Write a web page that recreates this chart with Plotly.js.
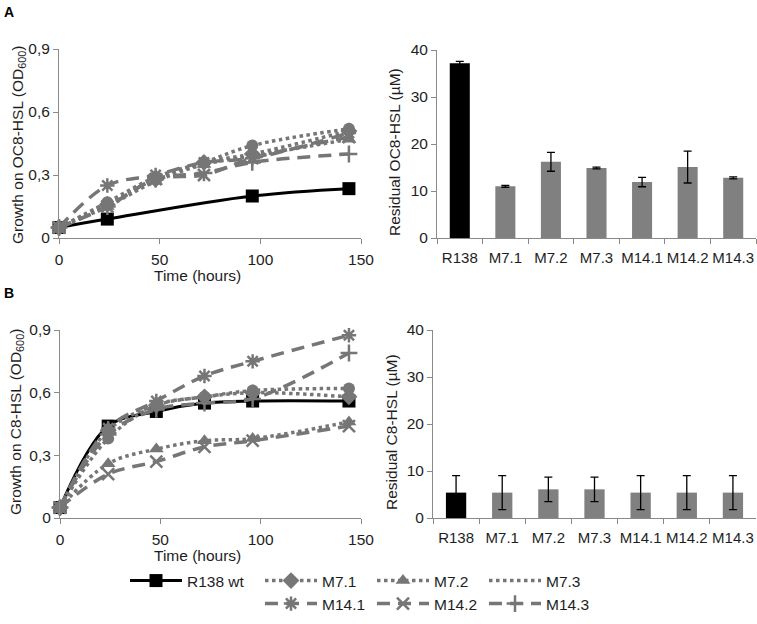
<!DOCTYPE html>
<html><head><meta charset="utf-8">
<script src="https://cdn.plot.ly/plotly-3.0.1.min.js"></script>
<style>html,body{margin:0;padding:0;background:#fff}#chart{width:757px;height:624px}</style>
</head><body><div id="chart"></div>
<script>
// ---- data ----
const time = [0, 24, 48, 72, 96, 144];
const timeWtA = [0, 24, 96, 144];
const strains = ["R138", "M7.1", "M7.2", "M7.3", "M14.1", "M14.2", "M14.3"];

// Panel A: growth on OC8-HSL (OD600)
const a_R138 = [0.05, 0.09, 0.20, 0.235];
const a_M71 = [0.05, 0.16, 0.28, 0.36, 0.40, 0.51];
const a_M72 = [0.05, 0.15, 0.27, 0.35, 0.39, 0.47];
const a_M73 = [0.05, 0.17, 0.29, 0.36, 0.44, 0.52];
const a_M141 = [0.05, 0.25, 0.30, 0.36, 0.38, 0.50];
const a_M142 = [0.05, 0.15, 0.28, 0.30, 0.38, 0.48];
const a_M143 = [0.05, 0.15, 0.28, 0.31, 0.36, 0.40];
const a_resid = [37.2, 11.0, 16.2, 14.9, 11.9, 15.1, 12.8];
const a_residErr = [0.4, 0.2, 2.0, 0.2, 1.0, 3.4, 0.2];

// Panel B: growth on C8-HSL (OD600)
const b_R138 = [0.05, 0.44, 0.51, 0.55, 0.56, 0.56];
const b_M71 = [0.05, 0.42, 0.54, 0.58, 0.60, 0.58];
const b_M72 = [0.05, 0.26, 0.33, 0.37, 0.38, 0.46];
const b_M73 = [0.05, 0.38, 0.54, 0.58, 0.61, 0.62];
const b_M141 = [0.05, 0.43, 0.56, 0.68, 0.75, 0.875];
const b_M142 = [0.05, 0.21, 0.27, 0.34, 0.37, 0.44];
const b_M143 = [0.05, 0.40, 0.52, 0.55, 0.57, 0.79];
const b_resid = [5.4, 5.4, 6.1, 6.1, 5.4, 5.4, 5.4];
const b_residErr = [3.6, 3.6, 2.6, 2.6, 3.6, 3.6, 3.6];

// ---- styles ----
const GRAY = '#767676';
const BAR_GRAY = '#808080';
const FONT = 'Liberation Sans, Arial, sans-serif';
const TXT = '#1e1e1e';
const AX = '#8a8a8a';

const series = [
  {name: 'M7.1', sym: 'diamond', dash: 'dot', w: 3.5, size: 13, lg: 'legend2'},
  {name: 'M7.2', sym: 'triangle-up', dash: 'dot', w: 3.5, size: 13, lg: 'legend2'},
  {name: 'M7.3', sym: 'circle', dash: 'dot', w: 3.5, size: 12, lg: 'legend2', noLegendMarker: true},
  {name: 'M14.1', sym: 'asterisk-open', dash: '13px,8px', w: 3.5, size: 12, lg: 'legend3'},
  {name: 'M14.2', sym: 'x-thin-open', dash: '13px,8px', w: 3.5, size: 12, lg: 'legend3'},
  {name: 'M14.3', sym: 'cross-thin-open', dash: '13px,8px', w: 3.5, size: 12, lg: 'legend3'}
];
const aVals = [a_M71, a_M72, a_M73, a_M141, a_M142, a_M143];
const bVals = [b_M71, b_M72, b_M73, b_M141, b_M142, b_M143];

const traces = [];
function addPanel(xa, ya, wtX, wtY, vals, withLegend) {
  traces.push({x: wtX, y: wtY, xaxis: xa, yaxis: ya, type: 'scatter', mode: 'lines+markers',
    name: 'R138 wt', legend: 'legend', showlegend: withLegend, cliponaxis: false,
    line: {color: '#000', width: 3, shape: 'spline'},
    marker: {symbol: 'square', size: 13, color: '#000'}});
  series.forEach((s, i) => {
    const openSym = s.sym.indexOf('open') >= 0;
    const mk = {symbol: s.sym, size: s.size, color: GRAY, line: {color: GRAY, width: openSym ? 2.5 : 0}};
    if (s.noLegendMarker) {
      traces.push({x: time, y: vals[i], xaxis: xa, yaxis: ya, type: 'scatter', mode: 'lines',
        name: s.name, legend: s.lg, showlegend: withLegend, cliponaxis: false,
        line: {color: GRAY, width: s.w, dash: s.dash, shape: 'spline'}});
      traces.push({x: time, y: vals[i], xaxis: xa, yaxis: ya, type: 'scatter', mode: 'markers',
        name: s.name, showlegend: false, cliponaxis: false, marker: mk});
    } else {
      traces.push({x: time, y: vals[i], xaxis: xa, yaxis: ya, type: 'scatter', mode: 'lines+markers',
        name: s.name, legend: s.lg, showlegend: withLegend, cliponaxis: false,
        line: {color: GRAY, width: s.w, dash: s.dash, shape: 'spline'}, marker: mk});
    }
  });
}
addPanel('x', 'y', timeWtA, a_R138, aVals, true);
addPanel('x3', 'y3', time, b_R138, bVals, false);

const barColors = strains.map((s, i) => i === 0 ? '#000' : BAR_GRAY);
function addBars(xa, ya, v, e) {
  traces.push({x: strains, y: v, xaxis: xa, yaxis: ya, type: 'bar', showlegend: false,
    marker: {color: barColors, line: {width: 0}},
    error_y: {type: 'data', array: e, visible: true, color: '#000', thickness: 1.3, width: 4}});
}
addBars('x2', 'y2', a_resid, a_residErr);
addBars('x4', 'y4', b_resid, b_residErr);

const W = 757, H = 624;
const dx = (a, b) => [a / W, b / W];
const dy = (top, bot) => [1 - bot / H, 1 - top / H];
const tickFont = {family: FONT, size: 15.5, color: TXT};
const titleFont = {family: FONT, size: 15.5, color: TXT};

function lineX(dom, anchor) {
  return {domain: dom, anchor: anchor, range: [0, 150], tickvals: [0, 50, 100, 150],
    showgrid: false, zeroline: false, showline: true, linecolor: AX, linewidth: 1,
    ticks: 'outside', ticklen: 5, tickcolor: AX, tickfont: tickFont, ticklabelstandoff: 2};
}
function lineY(dom, anchor) {
  return {domain: dom, anchor: anchor, range: [0, 0.9], tickvals: [0, 0.3, 0.6, 0.9],
    ticktext: ['0', '0,3', '0,6', '0,9'],
    showgrid: false, zeroline: false, showline: true, linecolor: AX, linewidth: 1,
    ticks: 'outside', ticklen: 5, tickcolor: AX, tickfont: tickFont};
}
function barX(dom, anchor) {
  return {domain: dom, anchor: anchor, type: 'category', showgrid: false, zeroline: false,
    showline: true, linecolor: AX, linewidth: 1, ticks: 'outside', tickson: 'boundaries',
    ticklen: 5, tickcolor: AX, tickangle: 0, ticklabelstandoff: 6,
    tickfont: {family: FONT, size: 15, color: TXT}};
}
function barY(dom, anchor) {
  return {domain: dom, anchor: anchor, range: [0, 40], tickvals: [0, 10, 20, 30, 40],
    showgrid: false, zeroline: false, showline: true, linecolor: AX, linewidth: 1,
    ticks: 'outside', ticklen: 5, tickcolor: AX, tickfont: tickFont};
}

const legendBase = {orientation: 'h', xanchor: 'left', yanchor: 'top', itemwidth: 52,
  font: {family: FONT, size: 15.5, color: TXT}, bgcolor: 'rgba(0,0,0,0)', borderwidth: 0,
  tracegroupgap: 0, itemsizing: 'trace', entrywidth: 45, entrywidthmode: 'pixels'};

function yTitle(text, xc, yc) {
  return {text: text, x: xc / W, y: 1 - yc / H, xref: 'paper', yref: 'paper',
    xanchor: 'center', yanchor: 'middle', textangle: -90, showarrow: false, font: titleFont};
}
function xTitle(text, xc, yc) {
  return {text: text, x: xc / W, y: 1 - yc / H, xref: 'paper', yref: 'paper',
    xanchor: 'center', yanchor: 'middle', showarrow: false, font: titleFont};
}

const layout = {
  width: W, height: H, margin: {l: 0, r: 0, t: 0, b: 0},
  paper_bgcolor: '#fff', plot_bgcolor: '#fff', separators: ', ',
  font: {family: FONT, color: TXT},
  bargap: 0.56,
  xaxis: lineX(dx(59, 361), 'y'),
  yaxis: lineY(dy(49, 238), 'x'),
  xaxis2: barX(dx(437, 756), 'y2'),
  yaxis2: barY(dy(50, 238), 'x2'),
  xaxis3: lineX(dx(60, 361), 'y3'),
  yaxis3: lineY(dy(330, 518), 'x3'),
  xaxis4: barX(dx(433, 756), 'y4'),
  yaxis4: barY(dy(330, 518), 'x4'),
  showlegend: true,
  legend: Object.assign({}, legendBase, {x: 125 / W, y: 1 - 564 / H, entrywidth: 70}),
  legend2: Object.assign({}, legendBase, {x: 260 / W, y: 1 - 564 / H}),
  legend3: Object.assign({}, legendBase, {x: 260 / W, y: 1 - 587 / H}),
  annotations: [
    {text: '<b>A</b>', x: 2 / W, y: 1 - 2 / H, xref: 'paper', yref: 'paper', xanchor: 'left', yanchor: 'top',
      showarrow: false, font: {family: FONT, size: 14, color: '#000'}},
    {text: '<b>B</b>', x: 2 / W, y: 1 - 283 / H, xref: 'paper', yref: 'paper', xanchor: 'left', yanchor: 'top',
      showarrow: false, font: {family: FONT, size: 14, color: '#000'}},
    yTitle('Growth on OC8-HSL (OD<sub>600</sub>)', 18, 145),
    yTitle('Growth on C8-HSL (OD<sub>600</sub>)', 16, 422),
    yTitle('Residual OC8-HSL (µM)', 394, 152),
    yTitle('Residual C8-HSL (µM)', 391, 432),
    xTitle('Time (hours)', 197, 275),
    xTitle('Time (hours)', 197, 555)
  ]
};

Plotly.newPlot('chart', traces, layout, {staticPlot: true, displayModeBar: false});
</script></body></html>
